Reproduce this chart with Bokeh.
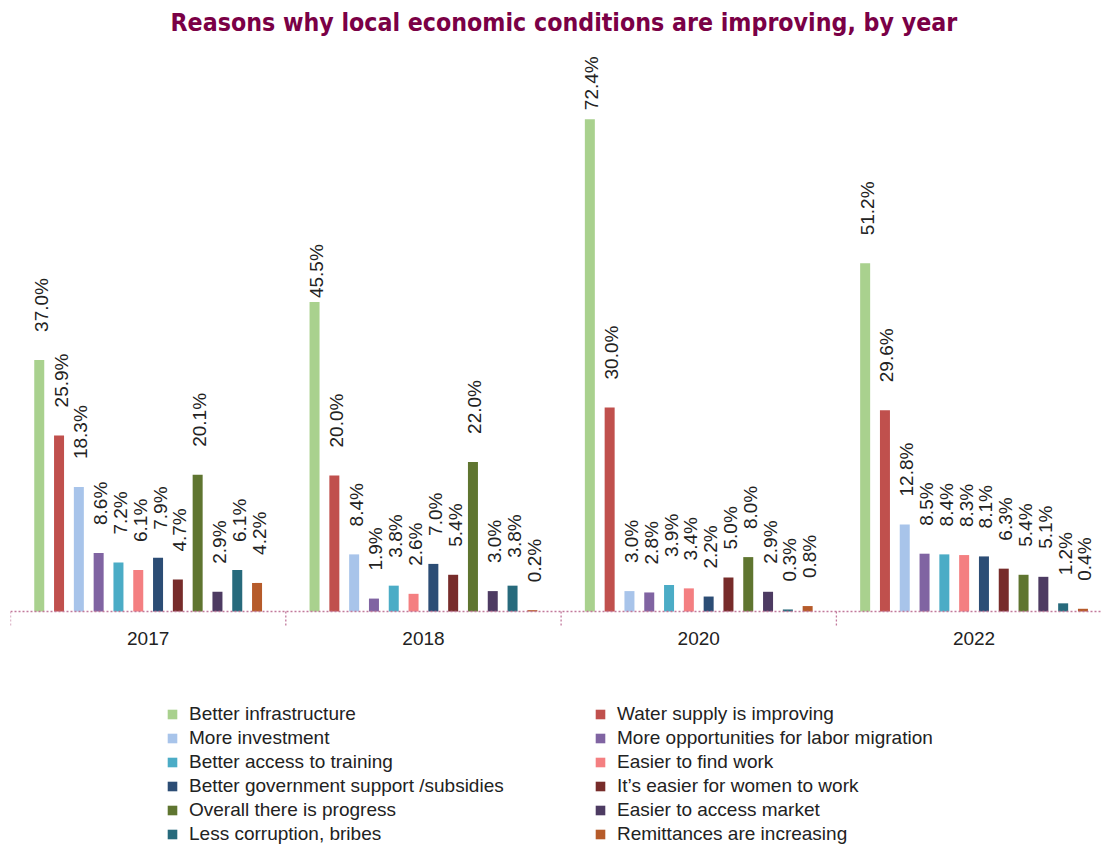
import math
from bokeh.plotting import figure
from bokeh.models import ColumnDataSource, Range1d, Legend, LegendItem
from bokeh.core.properties import value
from bokeh.embed import file_html
from bokeh.resources import INLINE

# ---------------- data ----------------
years = ["2017", "2018", "2020", "2022"]

reasons = [
    "Better infrastructure",
    "Water supply is improving",
    "More investment",
    "More opportunities for labor migration",
    "Better access to training",
    "Easier to find work",
    "Better government support /subsidies",
    "It\u2019s easier for women to work",
    "Overall there is progress",
    "Easier to access market",
    "Less corruption, bribes",
    "Remittances are increasing",
]

better_infrastructure = [37.0, 45.5, 72.4, 51.2]
water_supply = [25.9, 20.0, 30.0, 29.6]
more_investment = [18.3, 8.4, 3.0, 12.8]
labor_migration = [8.6, 1.9, 2.8, 8.5]
access_training = [7.2, 3.8, 3.9, 8.4]
find_work = [6.1, 2.6, 3.4, 8.3]
gov_support = [7.9, 7.0, 2.2, 8.1]
women_work = [4.7, 5.4, 5.0, 6.3]
overall_progress = [20.1, 22.0, 8.0, 5.4]
access_market = [2.9, 3.0, 2.9, 5.1]
less_corruption = [6.1, 3.8, 0.3, 1.2]
remittances = [4.2, 0.2, 0.8, 0.4]

series = [better_infrastructure, water_supply, more_investment, labor_migration,
          access_training, find_work, gov_support, women_work, overall_progress,
          access_market, less_corruption, remittances]

colors = ["#A9D18E", "#C0504D", "#A8C4EA", "#8064A2", "#4BACC6", "#F47F81",
          "#2C4D75", "#772C2A", "#5F7530", "#4D3B62", "#276A7C", "#B65B2A"]

# ---------------- layout constants ----------------
W, H = 1102, 845
LEFT, TOP = 10, 38
GROUP_PX = 275.3
PX_PER_PCT = 6.8
BASE_Y = 611
frame_w = W - LEFT
x_end = frame_w / GROUP_PX
y_start = -(H - BASE_Y) / PX_PER_PCT
y_end = (BASE_Y - TOP) / PX_PER_PCT
STEP = 19.8 / GROUP_PX
BAR_W = 10 / GROUP_PX
LABEL_GAP = 28
# a few labels sit closer to their bars in the original (series index, year index)
LABEL_GAP_OVERRIDE = {(0, 1): 4, (0, 2): 9}

FONT = "Liberation Sans"
FS = "19px"
TXT = "#222222"
AXIS_COL = "#C27A9C"

p = figure(width=W, height=H, output_backend="svg", toolbar_location=None,
           x_axis_location=None, y_axis_location=None,
           x_range=Range1d(0, x_end), y_range=Range1d(y_start, y_end),
           min_border_left=LEFT, min_border_right=0, min_border_top=TOP,
           min_border_bottom=0, outline_line_color=None,
           title="Reasons why local economic conditions are improving, by year")
p.grid.visible = False
p.title.text_font = "DejaVu Sans Condensed"
p.title.text_font_size = "24.7px"
p.title.text_font_style = "bold"
p.title.text_color = "#7A0046"
p.title.align = "left"
p.title.offset = 160
p.title.standoff = 0
p.title.vertical_align = "top"

renderers = []
for j, (vals, col) in enumerate(zip(series, colors)):
    xs = [g + 0.5 + (j - 5.5) * STEP for g in range(len(years))]
    gaps = [-LABEL_GAP_OVERRIDE.get((j, g), LABEL_GAP) for g in range(len(years))]
    src = ColumnDataSource(dict(x=xs, top=vals, gap=gaps,
                                lab=[f"{v:.1f}%" for v in vals]))
    r = p.vbar(x="x", top="top", bottom=0, width=BAR_W, source=src,
               fill_color=col, line_color=None)
    renderers.append(r)
    p.text(x="x", y="top", text="lab", source=src, angle=math.pi / 2,
           text_align="left", text_baseline="middle", x_offset=2, y_offset="gap",
           text_font=value(FONT), text_font_size=FS, text_color=TXT)

# baseline + group separators
p.segment(x0=[0], y0=[0], x1=[x_end], y1=[0], line_color=AXIS_COL,
          line_width=1.3, line_dash="2 2")
sep_x = list(range(len(years)))
p.segment(x0=sep_x, y0=[0] * len(sep_x), x1=sep_x,
          y1=[-14 / PX_PER_PCT] * len(sep_x), line_color=AXIS_COL,
          line_width=1.3, line_dash="2 2")

# year labels
ysrc = ColumnDataSource(dict(x=[g + 0.5 for g in range(len(years))],
                             y=[0] * len(years), t=years))
p.text(x="x", y="y", text="t", source=ysrc, text_align="center",
       text_baseline="top", y_offset=20, text_font=value(FONT),
       text_font_size=FS, text_color=TXT)

# legends (two columns)
def make_legend(idx, xpos):
    items = [LegendItem(label=reasons[i], renderers=[renderers[i]]) for i in idx]
    return Legend(items=items, location=(xpos, 0), orientation="vertical",
                  glyph_width=12, glyph_height=12, label_standoff=11,
                  spacing=2, padding=0, margin=0, label_height=20,
                  border_line_color=None, background_fill_alpha=0,
                  label_text_font=FONT, label_text_font_size=FS,
                  label_text_color=TXT)

p.add_layout(make_legend([0, 2, 4, 6, 8, 10], 156))
p.add_layout(make_legend([1, 3, 5, 7, 9, 11], 584))

open("out.html", "w").write(file_html(p, INLINE))
